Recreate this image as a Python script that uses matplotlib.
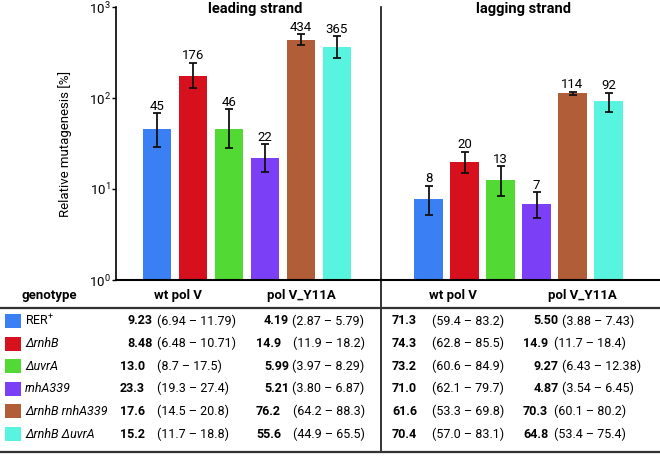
import matplotlib
matplotlib.use("Agg")
import numpy as np
from matplotlib import pyplot as plt
from matplotlib import font_manager
from matplotlib.patches import Rectangle

# pick a narrow family if there is one
names = {f.name for f in font_manager.fontManager.ttflist}
family = "Liberation Sans Narrow" if "Liberation Sans Narrow" in names else "Roboto"
plt.rcParams["font.family"] = [family, "DejaVu Sans"]
plt.rcParams["mathtext.fontset"] = "custom"
plt.rcParams["mathtext.rm"] = family
plt.rcParams["mathtext.it"] = family + ":italic"
plt.rcParams["mathtext.bf"] = family + ":bold"

genotypes = ["RER$^{+}$", "ΔrnhB", "ΔuvrA", "rnhA339", "ΔrnhB rnhA339", "ΔrnhB ΔuvrA"]
italic = [False, True, True, True, True, True]
colors = ["#3b7ff5", "#d7101e", "#52d934", "#7b3ff5", "#b05d38", "#58f4df"]

lead_vals = [45.3, 176, 46, 22, 434, 365]
lead_lo = [29, 128, 28, 15.5, 385, 272]
lead_hi = [68, 245, 75, 31, 500, 480]

lag_vals = [7.7, 19.8, 12.7, 6.9, 114, 92]
lag_lo = [5.2, 15, 8.4, 4.8, 107, 71]
lag_hi = [10.9, 25.7, 17.8, 9.2, 117, 114]

titles = ["leading strand", "lagging strand"]
headers = ["wt pol V", "pol V_Y11A", "wt pol V", "pol V_Y11A"]
col_vals = [
    ["9.23", "8.48", "13.0", "23.3", "17.6", "15.2"],
    ["4.19", "14.9", "5.99", "5.21", "76.2", "55.6"],
    ["71.3", "74.3", "73.2", "71.0", "61.6", "70.4"],
    ["5.50", "14.9", "9.27", "4.87", "70.3", "64.8"],
]
col_ci = [
    ["6.94 – 11.79", "6.48 – 10.71", "8.7 – 17.5", "19.3 – 27.4", "14.5 – 20.8", "11.7 – 18.8"],
    ["2.87 – 5.79", "11.9 – 18.2", "3.97 – 8.29", "3.80 – 6.87", "64.2 – 88.3", "44.9 – 65.5"],
    ["59.4 – 83.2", "62.8 – 85.5", "60.6 – 84.9", "62.1 – 79.7", "53.3 – 69.8", "57.0 – 83.1"],
    ["3.88 – 7.43", "11.7 – 18.4", "6.43 – 12.38", "3.54 – 6.45", "60.1 – 80.2", "53.4 – 75.4"],
]

W, H = 660, 458
fig = plt.figure(figsize=(W / 100, H / 100), dpi=100)

y_top, y_bot = 7, 280
x0, xmid, x1 = 116, 381, 660


def make_axes(xa, xb):
    ax = fig.add_axes([xa / W, 1 - y_bot / H, (xb - xa) / W, (y_bot - y_top) / H])
    ax.set_facecolor("none")
    return ax


def draw_bars(ax, vals, lo, hi, off):
    x = np.arange(len(vals))
    vals = np.array(vals)
    err = [vals - np.array(lo), np.array(hi) - vals]
    ax.bar(x, vals, width=0.78, color=colors, zorder=2)
    ax.errorbar(x, vals, yerr=err, fmt="none", ecolor="#111111",
                elinewidth=1.3, capsize=3, capthick=1.3, zorder=3)
    for xi, v, h in zip(x, vals, hi):
        ax.annotate(f"{v:.0f}", (xi, h), xytext=(0, 0.3), textcoords="offset points",
                    ha="center", va="bottom", fontsize=9.5)
    ax.set_yscale("log")
    ax.set_ylim(1, 1000)
    width = ax.get_position().width * W / 36
    ax.set_xlim(-off, width - off)
    ax.set_xticks([])
    ax.minorticks_off()
    for s in ["top", "right"]:
        ax.spines[s].set_visible(False)
    ax.spines["bottom"].set_linewidth(1.5)
    ax.spines["left"].set_linewidth(1.2)


ax1 = make_axes(x0, xmid)
draw_bars(ax1, lead_vals, lead_lo, lead_hi, 41 / 36)
ax1.set_yticks([1, 10, 100, 1000])
ax1.tick_params(axis="y", length=3, width=1, pad=1, labelsize=9.5)
ax1.set_ylabel("Relative mutagenesis [%]", fontsize=9.5, labelpad=12)

ax2 = make_axes(xmid, x1)
draw_bars(ax2, lag_vals, lag_lo, lag_hi, 47.5 / 36)
ax2.spines["left"].set_visible(False)
ax2.set_yticks([])

# table drawn in pixel space
tab = fig.add_axes([0, 0, 1, 1], zorder=-1)
tab.set_xlim(0, W)
tab.set_ylim(H, 0)
tab.axis("off")

for tx, t in zip([255, 523], titles):
    tab.text(tx, 9, t, ha="center", va="center", fontsize=10.5, fontweight="bold")

tab.plot([xmid, xmid], [y_top, 452], color="#111111", lw=1.2)
tab.plot([0, W], [308, 308], color="#333333", lw=1.6)
tab.plot([0, W], [452, 452], color="#333333", lw=1.6)

tab.text(49, 295, "genotype", ha="center", va="center", fontsize=9.5, fontweight="bold")
header_x = [178, 301, 453, 582]
for hx, h in zip(header_x, headers):
    tab.text(hx, 295, h, ha="center", va="center", fontsize=9.5, fontweight="bold")

col_left = [120, 256, 392, 523]
col_right = [153, 289, 420, 559]
paren_left = [157, 293, 432, 554]
paren_right = [157, 292, 432, 562]

row_y = [321 + 22.6 * i for i in range(6)]
for i, y in enumerate(row_y):
    tab.add_patch(Rectangle((5, y - 7), 16, 14, color=colors[i], lw=0))
    tab.text(25, y, genotypes[i], ha="left", va="center", fontsize=9,
             style="italic" if italic[i] else "normal")
    for c in range(4):
        v = col_vals[c][i]
        two_dec = len(v.split(".")[1]) == 2
        if two_dec:
            tab.text(col_right[c], y, v, ha="right", va="center", fontsize=9, fontweight="bold")
            px = paren_right[c]
        else:
            tab.text(col_left[c], y, v, ha="left", va="center", fontsize=9, fontweight="bold")
            px = paren_left[c]
        tab.text(px, y, f"({col_ci[c][i]})", ha="left", va="center", fontsize=9)

fig.savefig("out.png", dpi=100)
